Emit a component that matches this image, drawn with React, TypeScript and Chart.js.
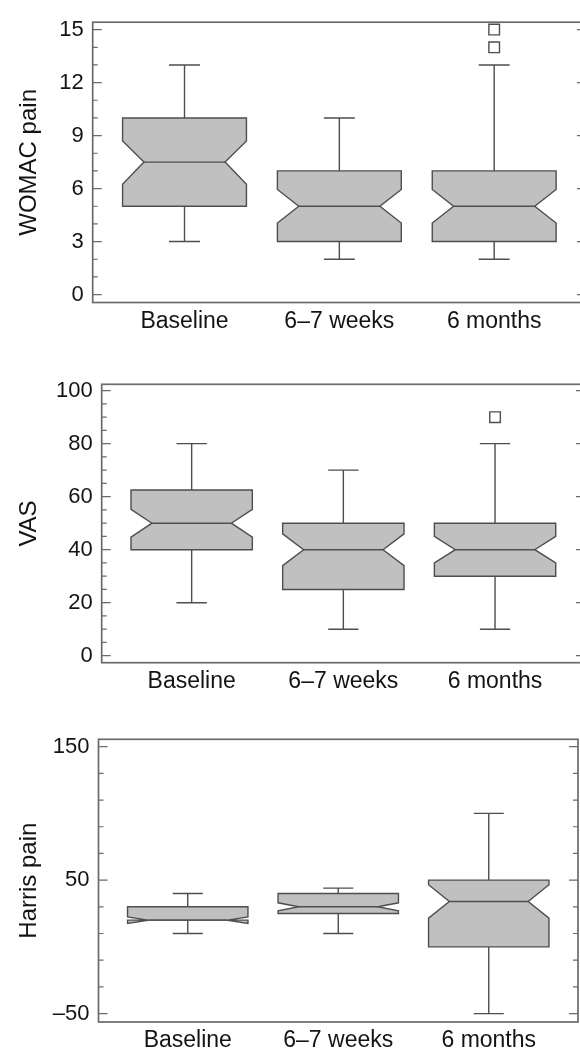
import React, { useEffect, useRef } from 'react';
import { Chart, registerables } from 'chart.js';

Chart.register(...registerables);

const categories = ['Baseline', '6–7 weeks', '6 months'];

// WOMAC pain
const womacMin = [3, 2, 2];
const womacQ1 = [5, 3, 3];
const womacMedian = [7.5, 5, 5];
const womacQ3 = [10, 7, 7];
const womacMax = [13, 10, 13];
const womacNotchLo = [6.25, 4.05, 4.05];
const womacNotchHi = [8.7, 5.95, 5.95];
const womacOutliers = [[], [], [14, 15]];
const womacTicks = [0, 3, 6, 9, 12, 15];

// VAS
const vasMin = [20, 10, 10];
const vasQ1 = [40, 25, 30];
const vasMedian = [50, 40, 40];
const vasQ3 = [62.5, 50, 50];
const vasMax = [80, 70, 80];
const vasNotchLo = [44.75, 34, 35];
const vasNotchHi = [55.25, 46, 45];
const vasOutliers = [[], [], [90]];
const vasTicks = [0, 20, 40, 60, 80, 100];

// Harris pain
const harrisMin = [10, 10, -50];
const harrisQ1 = [20, 25, 0];
const harrisMedian = [20, 30, 34];
const harrisQ3 = [30, 40, 50];
const harrisMax = [40, 44, 100];
const harrisNotchLo = [17.5, 27, 21.5];
const harrisNotchHi = [22.5, 33, 46.5];
const harrisOutliers = [[], [], []];
const harrisTicks = [-50, 50, 150];

const FONT = "'Liberation Sans', Arial, sans-serif";
const TEXT = '#141414';
const LINE = '#4e4e4e';
const FRAME = '#6a6a6a';
const FILL = '#c0c0c0';
const CANVAS_W = 600;

interface PanelProps {
    title: string;
    mins: number[];
    q1s: number[];
    medians: number[];
    q3s: number[];
    maxs: number[];
    notchLo: number[];
    notchHi: number[];
    outliers: number[][];
    yMin: number;
    yMax: number;
    majorTicks: number[];
    minorStep: number;
    top: number;
    height: number;
    areaLeft: number;
    areaRight: number;
    areaTop: number;
    areaBottom: number;
}

const fmt = (v: number) => (v < 0 ? '–' + Math.abs(v) : String(v));

const BoxPanel = (p: PanelProps) => {
    const canvasRef = useRef<HTMLCanvasElement>(null);

    useEffect(() => {
        if (!canvasRef.current) return;
        const ctx = canvasRef.current.getContext('2d');
        if (!ctx) return;

        const allTicks: number[] = [];
        const first = p.majorTicks[0];
        const last = p.majorTicks[p.majorTicks.length - 1];
        for (let v = first; v <= last + 1e-9; v += p.minorStep) allTicks.push(v);

        const points: { x: number; y: number }[] = [];
        p.outliers.forEach((list, i) => list.forEach(v => points.push({ x: i + 1, y: v })));

        const boxPlugin = {
            id: 'notchedBoxes',
            beforeDatasetsDraw(chart: Chart) {
                const { ctx } = chart;
                const x = chart.scales.x;
                const y = chart.scales.y;
                ctx.save();
                ctx.lineWidth = 1.4;
                ctx.strokeStyle = LINE;
                categories.forEach((_, i) => {
                    const cx = x.getPixelForValue(i + 1);
                    const hw = x.getPixelForValue(i + 1.4) - cx;
                    const cap = x.getPixelForValue(i + 1.1) - cx;
                    const d = hw * 0.345;
                    const L = cx - hw;
                    const R = cx + hw;
                    const yQ1 = y.getPixelForValue(p.q1s[i]);
                    const yQ3 = y.getPixelForValue(p.q3s[i]);
                    const yMed = y.getPixelForValue(p.medians[i]);
                    const yLo = y.getPixelForValue(p.notchLo[i]);
                    const yHi = y.getPixelForValue(p.notchHi[i]);
                    const yMin = y.getPixelForValue(p.mins[i]);
                    const yMax = y.getPixelForValue(p.maxs[i]);

                    // whiskers
                    ctx.beginPath();
                    ctx.moveTo(cx, yQ3);
                    ctx.lineTo(cx, yMax);
                    ctx.moveTo(cx - cap, yMax);
                    ctx.lineTo(cx + cap, yMax);
                    ctx.moveTo(cx, yQ1);
                    ctx.lineTo(cx, yMin);
                    ctx.moveTo(cx - cap, yMin);
                    ctx.lineTo(cx + cap, yMin);
                    ctx.stroke();

                    // notched box
                    ctx.beginPath();
                    ctx.moveTo(L, yQ3);
                    ctx.lineTo(R, yQ3);
                    ctx.lineTo(R, yHi);
                    ctx.lineTo(R - d, yMed);
                    ctx.lineTo(R, yLo);
                    ctx.lineTo(R, yQ1);
                    ctx.lineTo(L, yQ1);
                    ctx.lineTo(L, yLo);
                    ctx.lineTo(L + d, yMed);
                    ctx.lineTo(L, yHi);
                    ctx.closePath();
                    ctx.fillStyle = FILL;
                    ctx.fill();
                    ctx.stroke();

                    // median
                    ctx.beginPath();
                    ctx.moveTo(L + d, yMed);
                    ctx.lineTo(R - d, yMed);
                    ctx.stroke();
                });
                ctx.restore();
            },
            afterDatasetsDraw(chart: Chart) {
                const { ctx, chartArea } = chart;
                const y = chart.scales.y;
                ctx.save();
                ctx.strokeStyle = FRAME;
                ctx.lineWidth = 1.2;
                ctx.beginPath();
                allTicks.forEach(v => {
                    const py = y.getPixelForValue(v);
                    const len = p.majorTicks.includes(v) ? 9 : 5;
                    ctx.moveTo(chartArea.left, py);
                    ctx.lineTo(chartArea.left + len, py);
                    ctx.moveTo(chartArea.right - len, py);
                    ctx.lineTo(chartArea.right, py);
                });
                ctx.stroke();
                ctx.lineWidth = 1.7;
                ctx.strokeRect(chartArea.left, chartArea.top, chartArea.right - chartArea.left, chartArea.bottom - chartArea.top);
                ctx.restore();
            }
        };

        const chart = new Chart(ctx, {
            type: 'scatter',
            data: {
                datasets: [{
                    data: points,
                    pointStyle: 'rect',
                    pointRadius: 7.5,
                    pointHoverRadius: 7.5,
                    backgroundColor: '#ffffff',
                    borderColor: LINE,
                    borderWidth: 1.4
                }]
            },
            options: {
                responsive: false,
                animation: false,
                events: [],
                layout: {
                    padding: { left: 0, top: p.areaTop, right: CANVAS_W - p.areaRight, bottom: 0 }
                },
                plugins: {
                    legend: { display: false },
                    tooltip: { enabled: false }
                },
                scales: {
                    x: {
                        type: 'linear',
                        min: 0.407,
                        max: 3.593,
                        grid: { display: false, drawTicks: false },
                        border: { display: false },
                        afterBuildTicks: (s: any) => {
                            s.ticks = categories.map((_, i) => ({ value: i + 1 }));
                        },
                        afterFit: (s: any) => {
                            s.height = p.height - p.areaBottom;
                        },
                        ticks: {
                            autoSkip: false,
                            maxRotation: 0,
                            padding: 5,
                            color: TEXT,
                            font: { family: FONT, size: 23 },
                            callback: (v: any) => categories[Math.round(Number(v)) - 1] ?? ''
                        }
                    },
                    y: {
                        type: 'linear',
                        min: p.yMin,
                        max: p.yMax,
                        grid: { display: false, drawTicks: false },
                        border: { display: false },
                        afterBuildTicks: (s: any) => {
                            s.ticks = allTicks.map(v => ({ value: v }));
                        },
                        afterFit: (s: any) => {
                            s.width = p.areaLeft;
                        },
                        ticks: {
                            autoSkip: false,
                            padding: 9,
                            color: TEXT,
                            font: { family: FONT, size: 22 },
                            callback: (v: any) => (p.majorTicks.includes(Number(v)) ? fmt(Number(v)) : '')
                        },
                        title: {
                            display: true,
                            text: p.title,
                            color: TEXT,
                            font: { family: FONT, size: 24 },
                            padding: { top: 15, bottom: 0 }
                        }
                    }
                }
            },
            plugins: [boxPlugin]
        });

        return () => {
            chart.destroy();
        };
    }, [p]);

    return (
        <div style={{ position: 'absolute', left: 0, top: p.top, width: CANVAS_W, height: p.height }}>
            <canvas ref={canvasRef} width={CANVAS_W} height={p.height} style={{ display: 'block' }}></canvas>
        </div>
    );
};

const App = () => {
    return (
        <div style={{ position: 'absolute', left: 0, top: 0, width: 580, height: 1049, overflow: 'hidden', background: '#fff' }}>
            <BoxPanel
                title="WOMAC pain"
                mins={womacMin} q1s={womacQ1} medians={womacMedian} q3s={womacQ3} maxs={womacMax}
                notchLo={womacNotchLo} notchHi={womacNotchHi} outliers={womacOutliers}
                yMin={-0.45} yMax={15.42} majorTicks={womacTicks} minorStep={1}
                top={0} height={345} areaLeft={92.7} areaRight={586} areaTop={12} areaBottom={302.5}
            />
            <BoxPanel
                title="VAS"
                mins={vasMin} q1s={vasQ1} medians={vasMedian} q3s={vasQ3} maxs={vasMax}
                notchLo={vasNotchLo} notchHi={vasNotchHi} outliers={vasOutliers}
                yMin={-2.64} yMax={102.4} majorTicks={vasTicks} minorStep={5}
                top={345} height={355} areaLeft={101.7} areaRight={585} areaTop={39.3} areaBottom={317.7}
            />
            <BoxPanel
                title="Harris pain"
                mins={harrisMin} q1s={harrisQ1} medians={harrisMedian} q3s={harrisQ3} maxs={harrisMax}
                notchLo={harrisNotchLo} notchHi={harrisNotchHi} outliers={harrisOutliers}
                yMin={-56.3} yMax={155.5} majorTicks={harrisTicks} minorStep={20}
                top={700} height={349} areaLeft={98.5} areaRight={578} areaTop={39.3} areaBottom={322}
            />
        </div>
    );
};

export default App;
